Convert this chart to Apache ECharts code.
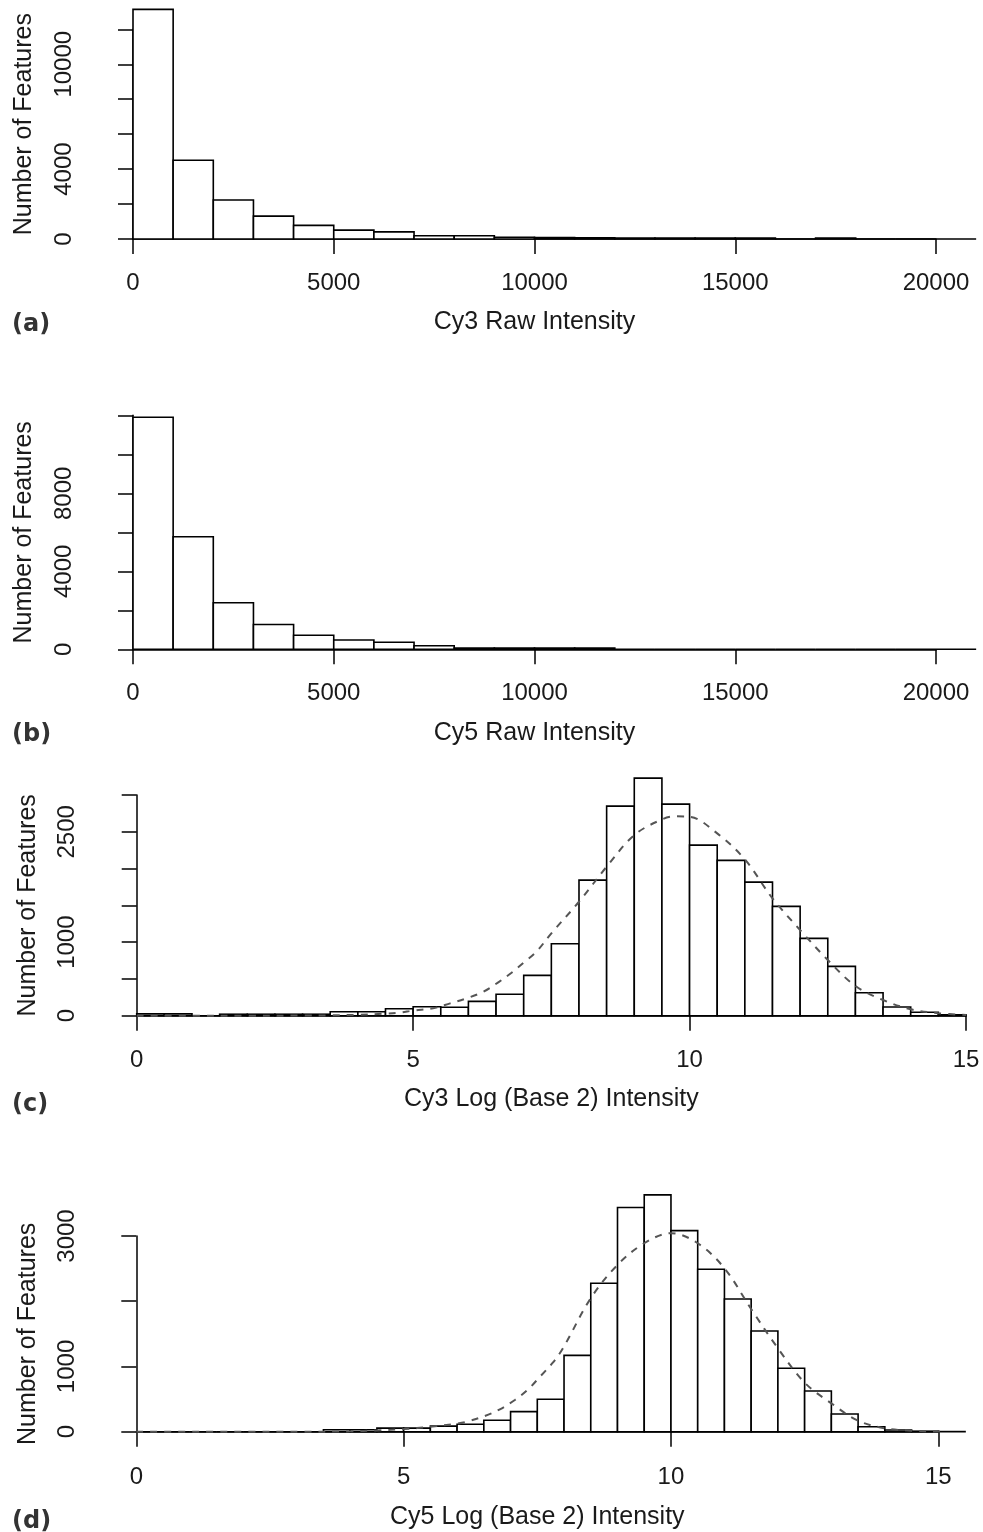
<!DOCTYPE html>
<html lang="en">
<head>
    <meta charset="UTF-8">
    <title>Cy3 / Cy5 intensity histograms</title>
    <script src="https://cdn.jsdelivr.net/npm/echarts@6.0.0/dist/echarts.min.js"></script>
    <style>
        html, body {
            margin: 0;
            padding: 0;
            background: #fff;
        }

        #main {
            width: 983px;
            height: 1532px;
        }
    </style>
</head>

<body>
<div id="main"></div>
<script type="text/javascript">
    // histogram bin widths
    var rawBinWidth = 1000;
    var logBinWidth = 0.5;

    // (a) Cy3 raw intensity, bins 0-1000 ... 20000-21000
    var cy3RawCounts = [13140, 4510, 2230, 1310, 780, 510, 410, 190, 190, 100, 80, 70, 60, 60, 50, 50, 0, 50, 0, 0, 0];
    // (b) Cy5 raw intensity, same bins
    var cy5RawCounts = [11900, 5770, 2390, 1270, 720, 480, 365, 180, 70, 70, 60, 60, 0, 0, 0, 0, 0, 0, 0, 0, 0];
    // (c) Cy3 log2 intensity, bins 0-0.5 ... 14.5-15
    var cy3LogCounts = [25, 25, 0, 20, 20, 20, 20, 54, 54, 95, 122, 114, 195, 291, 548, 978,
        1843, 2849, 3229, 2876, 2319, 2111, 1816, 1486, 1051, 671, 312, 118, 46, 12];
    // (d) Cy5 log2 intensity, bins 0-0.5 ... 15-15.5
    var cy5LogCounts = [0, 0, 0, 0, 0, 0, 0, 30, 30, 55, 55, 85, 115, 175, 307, 497,
        1170, 2276, 3436, 3630, 3083, 2490, 2035, 1544, 972, 624, 271, 77, 26, 8, 2];

    // dashed fitted curves
    var cy3FitX = [0, 1, 2, 3, 3.5, 4, 4.5, 4.76, 5.0, 5.36, 5.67, 6.0, 6.27, 6.54, 6.78, 7.02, 7.23, 7.5,
        8.0, 8.5, 9.0, 9.5, 9.75, 10.0, 10.5, 11.0, 11.5, 12.0, 12.5, 13.0, 13.5, 14.0, 14.5, 15.0];
    var cy3FitY = [0, 0, 0, 2, 5, 12, 28, 41, 70, 100, 168, 245, 326, 454, 584, 734, 870, 1120,
        1549, 2025, 2455, 2668, 2710, 2704, 2478, 2125, 1595, 1164, 757, 404, 213, 87, 33, 10];
    var cy5FitX = [0, 3, 4, 4.5, 5.0, 5.5, 6.0, 6.18, 6.52, 6.8, 7.08, 7.33, 7.55, 7.79, 7.98,
        8.5, 9.0, 9.5, 10.0, 10.5, 11.0, 11.5, 12.0, 12.5, 13.0, 13.5, 14.0, 14.5, 15.0, 15.5];
    var cy5FitY = [0, 0, 5, 20, 40, 75, 125, 153, 241, 343, 486, 650, 843, 1058, 1279,
        2046, 2557, 2889, 3043, 2889, 2506, 1880, 1279, 752, 435, 169, 52, 15, 3, 0];

    // axis ticks and the tick labels that are printed
    var rawXTicks = [0, 5000, 10000, 15000, 20000];
    var logXTicks = [0, 5, 10, 15];
    var cy3RawYTicks = [0, 2000, 4000, 6000, 8000, 10000, 12000];
    var cy3RawYLabels = [0, 4000, 10000];
    var cy5RawYTicks = [0, 2000, 4000, 6000, 8000, 10000, 12000];
    var cy5RawYLabels = [0, 4000, 8000];
    var cy3LogYTicks = [0, 500, 1000, 1500, 2000, 2500, 3000];
    var cy3LogYLabels = [0, 1000, 2500];
    var cy5LogYTicks = [0, 1000, 2000, 3000];
    var cy5LogYLabels = [0, 1000, 3000];

    var panelTags = ['(a)', '(b)', '(c)', '(d)'];
    var xTitles = ['Cy3 Raw Intensity', 'Cy5 Raw Intensity', 'Cy3 Log (Base 2) Intensity', 'Cy5 Log (Base 2) Intensity'];
    var yTitle = 'Number of Features';

    var textFont = '"Liberation Sans", Arial, sans-serif';
    var textColor = '#1a1a1a';

    function toBins(counts, width) {
        return counts.map(function (c, i) {
            return [i * width, (i + 1) * width, c];
        });
    }

    function zip(xs, ys) {
        return xs.map(function (x, i) {
            return [x, ys[i]];
        });
    }

    function renderHistBar(params, api) {
        var topLeft = api.coord([api.value(0), api.value(2)]);
        var bottomRight = api.coord([api.value(1), 0]);
        return {
            type: 'rect',
            shape: {
                x: topLeft[0],
                y: topLeft[1],
                width: bottomRight[0] - topLeft[0],
                height: bottomRight[1] - topLeft[1]
            },
            style: {fill: '#fff', stroke: '#000', lineWidth: 1.6}
        };
    }

    // panel placement on the page
    var layouts = [
        {grid: {left: 133, top: 29.3, width: 803, height: 209.7}, xOffset: 9, yOffset: 33, tagTop: 313, yNamePad: 20},
        {grid: {left: 133, top: 415.3, width: 803, height: 234}, xOffset: 9, yOffset: 33, tagTop: 723, yNamePad: 0},
        {grid: {left: 136.7, top: 795, width: 829.3, height: 220.7}, xOffset: 9.3, yOffset: 33.4, tagTop: 1093, yNamePad: 0},
        {grid: {left: 136.3, top: 1236, width: 802, height: 195.7}, xOffset: 10.6, yOffset: 33, tagTop: 1510, yNamePad: 0}
    ];

    var panelData = [
        {bins: toBins(cy3RawCounts, rawBinWidth), xTicks: rawXTicks, yTicks: cy3RawYTicks, yLabels: cy3RawYLabels, fit: null},
        {bins: toBins(cy5RawCounts, rawBinWidth), xTicks: rawXTicks, yTicks: cy5RawYTicks, yLabels: cy5RawYLabels, fit: null},
        {bins: toBins(cy3LogCounts, logBinWidth), xTicks: logXTicks, yTicks: cy3LogYTicks, yLabels: cy3LogYLabels, fit: zip(cy3FitX, cy3FitY)},
        {bins: toBins(cy5LogCounts, logBinWidth), xTicks: logXTicks, yTicks: cy5LogYTicks, yLabels: cy5LogYLabels, fit: zip(cy5FitX, cy5FitY)}
    ];

    var axisLineStyle = {color: '#000', width: 1.5};
    var grids = [], xAxes = [], yAxes = [], series = [], graphics = [];

    panelData.forEach(function (p, i) {
        var lay = layouts[i];
        var g = lay.grid;
        grids.push({left: g.left, top: g.top, width: g.width, height: g.height, outerBoundsMode: 'none', containLabel: false});

        xAxes.push({
            type: 'value',
            gridIndex: i,
            min: p.xTicks[0],
            max: p.xTicks[p.xTicks.length - 1],
            interval: p.xTicks[1] - p.xTicks[0],
            offset: lay.xOffset,
            name: xTitles[i],
            nameLocation: 'middle',
            nameGap: 62,
            nameTextStyle: {fontFamily: textFont, fontSize: 25, color: textColor},
            axisLine: {show: true, lineStyle: axisLineStyle},
            axisTick: {show: true, length: 15, lineStyle: axisLineStyle},
            axisLabel: {
                margin: 23,
                fontFamily: textFont,
                fontSize: 24,
                color: textColor,
                formatter: function (v) {
                    return String(v);
                }
            },
            splitLine: {show: false}
        });

        yAxes.push({
            type: 'value',
            gridIndex: i,
            min: p.yTicks[0],
            max: p.yTicks[p.yTicks.length - 1],
            interval: p.yTicks[1] - p.yTicks[0],
            offset: lay.yOffset,
            name: yTitle,
            nameLocation: 'middle',
            nameGap: 63,
            nameTextStyle: {
                fontFamily: textFont, fontSize: 25, color: textColor,
                padding: [0, 0, 0, lay.yNamePad]
            },
            axisLine: {show: true, lineStyle: axisLineStyle},
            axisTick: {show: true, length: 15, lineStyle: axisLineStyle},
            axisLabel: {
                rotate: 90,
                margin: 24,
                fontFamily: textFont,
                fontSize: 24,
                color: textColor,
                formatter: (function (shown) {
                    return function (v) {
                        return shown.indexOf(v) >= 0 ? String(v) : '';
                    };
                })(p.yLabels)
            },
            splitLine: {show: false}
        });

        series.push({
            type: 'custom',
            xAxisIndex: i,
            yAxisIndex: i,
            renderItem: renderHistBar,
            encode: {x: [0, 1], y: 2},
            clip: false,
            data: p.bins
        });

        if (p.fit) {
            series.push({
                type: 'line',
                xAxisIndex: i,
                yAxisIndex: i,
                data: p.fit,
                smooth: 0.35,
                symbol: 'none',
                clip: false,
                z: 5,
                lineStyle: {color: '#555', width: 2, type: [7, 7]}
            });
        }

        graphics.push({
            type: 'text',
            left: 12,
            top: lay.tagTop,
            style: {
                text: panelTags[i],
                font: 'bold 24px "DejaVu Sans", sans-serif',
                fill: '#333'
            }
        });
    });

    var myChart = echarts.init(document.getElementById('main'), null, {renderer: 'canvas'});
    myChart.setOption({
        animation: false,
        backgroundColor: '#fff',
        grid: grids,
        xAxis: xAxes,
        yAxis: yAxes,
        series: series,
        graphic: graphics
    });
</script>
</body>

</html>
